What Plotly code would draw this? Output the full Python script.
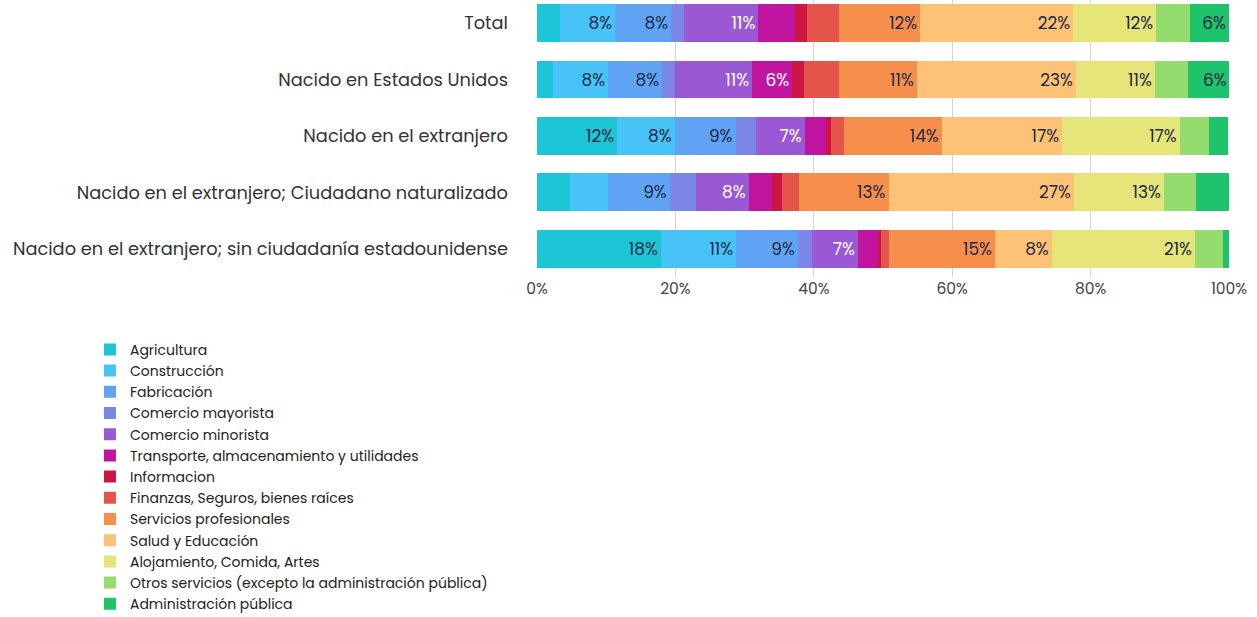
import plotly.graph_objects as go

groups = [
    "Total",
    "Nacido en Estados Unidos",
    "Nacido en el extranjero",
    "Nacido en el extranjero; Ciudadano naturalizado",
    "Nacido en el extranjero; sin ciudadanía estadounidense",
]

industries = [
    "Agricultura",
    "Construcción",
    "Fabricación",
    "Comercio mayorista",
    "Comercio minorista",
    "Transporte, almacenamiento y utilidades",
    "Informacion",
    "Finanzas, Seguros, bienes raíces",
    "Servicios profesionales",
    "Salud y Educación",
    "Alojamiento, Comida, Artes",
    "Otros servicios (excepto la administración pública)",
    "Administración pública",
]

tick_values = [0, 20, 40, 60, 80, 100]
tick_labels = ["0%", "20%", "40%", "60%", "80%", "100%"]

# share (%) per industry, in the order of `groups`
agricultura = [3.3, 2.3, 11.6, 4.8, 17.9]
construccion = [8.0, 8.0, 8.3, 5.4, 10.9]
fabricacion = [8.1, 7.8, 8.8, 9.0, 8.9]
mayorista = [1.8, 1.8, 3.0, 3.8, 2.1]
minorista = [10.8, 11.2, 7.0, 7.6, 6.6]
transporte = [5.3, 5.8, 3.1, 3.3, 2.9]
informacion = [1.7, 1.7, 0.7, 1.5, 0.4]
finanzas = [4.6, 5.1, 1.9, 2.5, 1.2]
profesionales = [11.8, 11.2, 14.1, 12.9, 15.3]
salud = [22.1, 23.0, 17.4, 26.8, 8.2]
alojamiento = [12.0, 11.4, 17.0, 13.0, 20.7]
otros = [4.8, 4.8, 4.2, 4.7, 4.0]
publica = [5.7, 6.0, 2.8, 4.7, 1.0]

series = [agricultura, construccion, fabricacion, mayorista, minorista, transporte,
          informacion, finanzas, profesionales, salud, alojamiento, otros, publica]

colors = ["#1cc6d6", "#47c3f7", "#60a3f4", "#7b86e6", "#9b58d4", "#c0169f",
          "#cc1540", "#e4544b", "#f68f4c", "#fdc275", "#e5e57a", "#95dc6e", "#1ec46c"]
text_colors = ["#1e2a44"] * 13
text_colors[4] = "#ffffff"
text_colors[5] = "#ffffff"

FONT = "Poppins, Inter, sans-serif"

fig = go.Figure()
for name, vals, col, tcol in zip(industries, series, colors, text_colors):
    fig.add_trace(go.Bar(
        y=groups, x=vals, name=name, orientation="h",
        marker=dict(color=col, line=dict(width=0)),
        text=[f"{round(v)}%" if v >= 5.6 else "" for v in vals],
        textposition="inside", insidetextanchor="end",
        textfont=dict(color=tcol, size=17, family=FONT),
        constraintext="none",
        hovertemplate="%{y}<br>" + name + ": %{x}%<extra></extra>",
    ))

fig.update_layout(
    barmode="stack",
    bargap=0.33,
    width=1257, height=617,
    margin=dict(l=537, r=28, t=0, b=340, autoexpand=False),
    paper_bgcolor="white", plot_bgcolor="white",
    font=dict(family=FONT, color="#333333"),
    showlegend=True,
    legend=dict(
        orientation="v", traceorder="normal",
        x=-0.646, xanchor="left", y=-0.205, yanchor="top",
        font=dict(size=14, color="#222222", family=FONT),
        itemclick=False, itemdoubleclick=False,
    ),
    xaxis=dict(
        range=[0, 100], tickmode="array", tickvals=tick_values, ticktext=tick_labels,
        showgrid=True, gridcolor="#d4d4d4", gridwidth=1, zeroline=False,
        tickfont=dict(size=15.5, color="#444444", family=FONT),
        showline=False, fixedrange=True, automargin=False,
    ),
    yaxis=dict(
        categoryorder="array", categoryarray=groups,
        range=[4.5, -0.41], ticklabelstandoff=28,
        tickfont=dict(size=17.8, color="#333333", family=FONT),
        showgrid=False, fixedrange=True, automargin=False,
    ),
)

fig.write_html(
    "out.html",
    config={"displayModeBar": False},
    post_script="document.body.style.margin='0';document.body.style.overflow='hidden';",
)
